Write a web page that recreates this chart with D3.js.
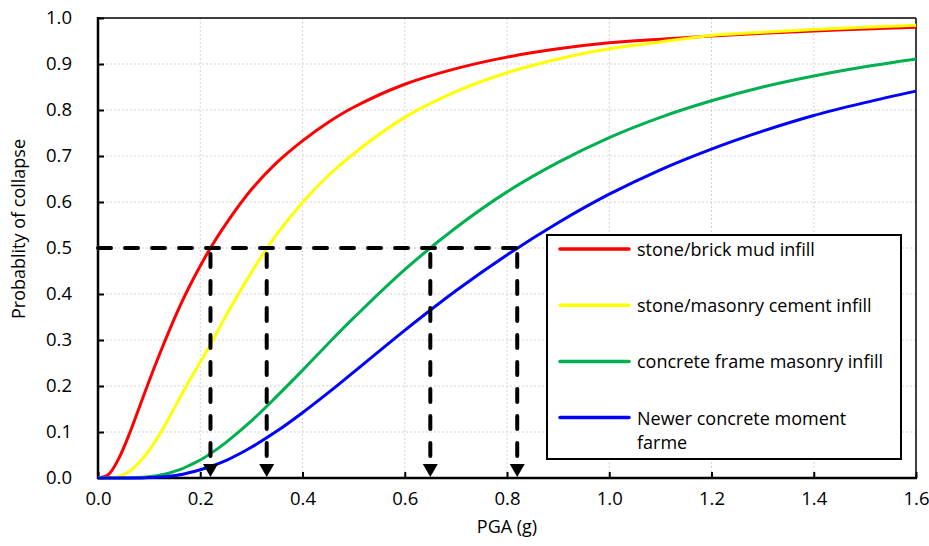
<!DOCTYPE html>
<html>
<head>
<meta charset="utf-8">
<script src="https://cdn.jsdelivr.net/npm/d3@7"></script>
<style>
  body { margin: 0; background: #fff; }
  text { font-family: "Open Sans", sans-serif; fill: #000; }
</style>
</head>
<body>
<div class="main-container"></div>
<script>
// values
const pga = [0, 0.02, 0.04, 0.06, 0.08, 0.10, 0.12, 0.14, 0.16, 0.18, 0.20, 0.22, 0.25, 0.30, 0.35,
  0.40, 0.45, 0.50, 0.60, 0.70, 0.80, 0.90, 1.0, 1.1, 1.2, 1.3, 1.4, 1.5, 1.6];
const stoneMud = [0, 0.007, 0.041, 0.092, 0.151, 0.211, 0.268, 0.322, 0.373, 0.419, 0.461, 0.500, 0.552, 0.627, 0.686,
  0.733, 0.773, 0.806, 0.856, 0.890, 0.915, 0.933, 0.946, 0.954, 0.961, 0.967, 0.972, 0.976, 0.980];
const stoneCement = [0, 0.000, 0.003, 0.013, 0.033, 0.060, 0.094, 0.133, 0.174, 0.214, 0.252, 0.290, 0.352, 0.447, 0.530,
  0.599, 0.657, 0.705, 0.784, 0.840, 0.881, 0.911, 0.933, 0.948, 0.962, 0.969, 0.975, 0.980, 0.984];
const concreteInfill = [0, 0, 0, 0, 0.001, 0.003, 0.006, 0.011, 0.018, 0.028, 0.039, 0.053, 0.077, 0.124, 0.178,
  0.234, 0.292, 0.348, 0.453, 0.544, 0.622, 0.686, 0.740, 0.784, 0.820, 0.850, 0.874, 0.894, 0.911];
const concreteMoment = [0, 0, 0, 0, 0, 0.001, 0.002, 0.004, 0.007, 0.012, 0.018, 0.025, 0.038, 0.067, 0.102,
  0.142, 0.185, 0.230, 0.321, 0.407, 0.485, 0.555, 0.617, 0.670, 0.715, 0.754, 0.788, 0.816, 0.841];

// legend labels, "\n" where the original wraps
const seriesNames = ["stone/brick mud infill", "stone/masonry cement infill",
  "concrete frame masonry infill", "Newer concrete moment\nfarme"];
const seriesColors = ["#ff0000", "#ffff00", "#00b050", "#0000ff"];
const seriesValues = [stoneMud, stoneCement, concreteInfill, concreteMoment];

// PGA at 50% probability of collapse (arrows)
const medians = [0.22, 0.33, 0.65, 0.82];
const medianLevel = 0.5;

const xTicks = [0, 0.2, 0.4, 0.6, 0.8, 1.0, 1.2, 1.4, 1.6];
const yTicks = [0, 0.1, 0.2, 0.3, 0.4, 0.5, 0.6, 0.7, 0.8, 0.9, 1.0];

let margin = {top: 18, right: 13, bottom: 68, left: 98},
  width = 929 - margin.left - margin.right,
  height = 546 - margin.top - margin.bottom;

const svg = d3.select(".main-container")
  .append("svg")
  .attr("width", width + margin.left + margin.right)
  .attr("height", height + margin.top + margin.bottom)
  .append("g")
  .attr("transform", "translate(" + margin.left + "," + margin.top + ")");

let x = d3.scaleLinear().domain([0, 1.6]).range([0, width]);
let y = d3.scaleLinear().domain([0, 1]).range([height, 0]);

// dotted grid
svg.append("g")
  .selectAll("line")
  .data(xTicks.slice(1, -1))
  .join("line")
  .attr("x1", d => x(d)).attr("x2", d => x(d))
  .attr("y1", 0).attr("y2", height)
  .attr("stroke", "#d4d4d4")
  .attr("stroke-dasharray", "2,2");

svg.append("g")
  .selectAll("line")
  .data(yTicks.slice(1, -1))
  .join("line")
  .attr("x1", 0).attr("x2", width)
  .attr("y1", d => y(d)).attr("y2", d => y(d))
  .attr("stroke", "#d4d4d4")
  .attr("stroke-dasharray", "2,2");

// axes, ticks pointing inwards
const xAxis = svg.append("g")
  .attr("transform", "translate(0," + height + ")")
  .call(d3.axisBottom(x).tickValues(xTicks).tickFormat(d3.format(".1f")).tickSize(-6).tickPadding(14));
const yAxis = svg.append("g")
  .call(d3.axisLeft(y).tickValues(yTicks).tickFormat(d3.format(".1f")).tickSize(-6).tickPadding(26));

[xAxis, yAxis].forEach(a => {
  a.select(".domain").remove();
  a.selectAll("line").attr("stroke", "#000").attr("stroke-width", 2);
  a.selectAll("text").style("font-size", "18.5px").style("font-family", "'Open Sans', sans-serif");
});

// frame
svg.append("line").attr("x1", width).attr("x2", width).attr("y1", 0).attr("y2", height)
  .attr("stroke", "#000").attr("stroke-width", 1.5);
svg.append("line").attr("x1", 0).attr("x2", width).attr("y1", 0).attr("y2", 0)
  .attr("stroke", "#000").attr("stroke-width", 1.5);
svg.append("line").attr("x1", 0).attr("x2", 0).attr("y1", -1).attr("y2", height + 1)
  .attr("stroke", "#000").attr("stroke-width", 2.5);
svg.append("line").attr("x1", -1).attr("x2", width + 1).attr("y1", height).attr("y2", height)
  .attr("stroke", "#000").attr("stroke-width", 2.5);

// curves
const line = d3.line()
  .x((d, i) => x(pga[i]))
  .y(d => y(d))
  .curve(d3.curveCatmullRom.alpha(0.5));

svg.append("g")
  .selectAll("path")
  .data(seriesValues)
  .join("path")
  .attr("fill", "none")
  .attr("stroke", (d, i) => seriesColors[i])
  .attr("stroke-width", 3)
  .attr("d", line);

// dashed guides to the median PGA values
const guides = svg.append("g");
const arrowH = 14;

guides.append("line")
  .attr("x1", x(0)).attr("x2", x(d3.max(medians)))
  .attr("y1", y(medianLevel)).attr("y2", y(medianLevel))
  .attr("stroke", "#000")
  .attr("stroke-width", 4)
  .attr("stroke-linecap", "round")
  .attr("stroke-dasharray", "13,14");

guides.selectAll("line.v")
  .data(medians)
  .join("line")
  .attr("class", "v")
  .attr("x1", d => x(d)).attr("x2", d => x(d))
  .attr("y1", y(medianLevel) + 6).attr("y2", height - arrowH - 2)
  .attr("stroke", "#000")
  .attr("stroke-width", 4)
  .attr("stroke-linecap", "round")
  .attr("stroke-dasharray", "13,14");

guides.selectAll("path")
  .data(medians)
  .join("path")
  .attr("fill", "#000")
  .attr("d", d => "M" + (x(d) - 7.5) + "," + (height - arrowH) + "L" + (x(d) + 7.5) + "," + (height - arrowH)
    + "L" + x(d) + "," + (height - 1) + "Z");

// axis titles
svg.append("text")
  .attr("x", width / 2)
  .attr("y", 533 - margin.top)
  .attr("text-anchor", "middle")
  .style("font-size", "18px")
  .text("PGA (g)");

svg.append("text")
  .attr("transform", "translate(" + (25 - margin.left) + "," + (229 - margin.top) + ")rotate(-90)")
  .attr("text-anchor", "middle")
  .style("font-size", "18px")
  .text("Probablity of collapse");

// legend
const legend = svg.append("g")
  .attr("transform", "translate(" + (547 - margin.left) + "," + (235 - margin.top) + ")");

legend.append("rect")
  .attr("width", 354)
  .attr("height", 224)
  .attr("fill", "#fff")
  .attr("stroke", "#000")
  .attr("stroke-width", 2);

const item = legend.selectAll("g.item")
  .data(seriesNames)
  .join("g")
  .attr("class", "item")
  .attr("transform", (d, i) => "translate(0," + (14 + i * 56.2) + ")");

item.append("line")
  .attr("x1", 13).attr("x2", 82)
  .attr("stroke", (d, i) => seriesColors[i])
  .attr("stroke-width", 3.5)
  .attr("stroke-linecap", "round");

item.append("text")
  .attr("x", 90)
  .attr("y", 7)
  .style("font-size", "18px")
  .selectAll("tspan")
  .data(d => d.split("\n"))
  .join("tspan")
  .attr("x", 90)
  .attr("dy", (l, j) => j ? 24 : 0)
  .text(l => l);
</script>
</body>
</html>
